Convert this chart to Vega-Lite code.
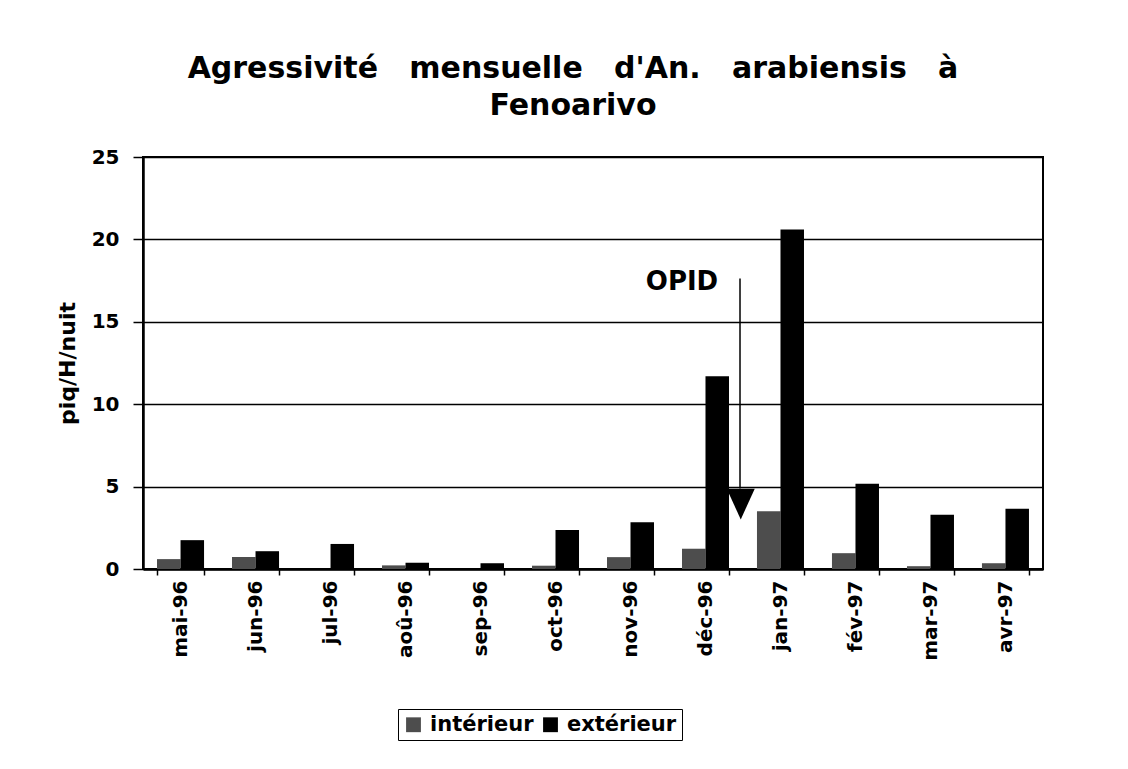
{
  "$schema": "https://vega.github.io/schema/vega-lite/v6.json",
  "width": 900,
  "height": 412,
  "autosize": {"type": "none"},
  "padding": {"left": 143, "top": 157, "right": 85, "bottom": 200},
  "background": "white",
  "config": {"font": "DejaVu Sans", "view": {"stroke": "black", "strokeWidth": 2}},
  "title": {
    "text": ["Agressivité \u00a0\u00a0mensuelle \u00a0\u00a0d'An. \u00a0\u00a0arabiensis \u00a0\u00a0à", "Fenoarivo"],
    "fontSize": 30,
    "fontWeight": "bold",
    "font": "DejaVu Sans",
    "anchor": "middle",
    "frame": "group",
    "offset": 26,
    "lineHeight": 37,
    "dx": -20,
    "color": "black"
  },
  "layer": [
    {
      "data": {
        "values": [
          {"month": "mai-96", "type": "intérieur", "value": 0.6},
          {"month": "mai-96", "type": "extérieur", "value": 1.75},
          {"month": "jun-96", "type": "intérieur", "value": 0.73},
          {"month": "jun-96", "type": "extérieur", "value": 1.08},
          {"month": "jul-96", "type": "intérieur", "value": 0},
          {"month": "jul-96", "type": "extérieur", "value": 1.52},
          {"month": "aoû-96", "type": "intérieur", "value": 0.22},
          {"month": "aoû-96", "type": "extérieur", "value": 0.38},
          {"month": "sep-96", "type": "intérieur", "value": 0},
          {"month": "sep-96", "type": "extérieur", "value": 0.35},
          {"month": "oct-96", "type": "intérieur", "value": 0.2},
          {"month": "oct-96", "type": "extérieur", "value": 2.36},
          {"month": "nov-96", "type": "intérieur", "value": 0.72},
          {"month": "nov-96", "type": "extérieur", "value": 2.84},
          {"month": "déc-96", "type": "intérieur", "value": 1.23},
          {"month": "déc-96", "type": "extérieur", "value": 11.7},
          {"month": "jan-97", "type": "intérieur", "value": 3.51},
          {"month": "jan-97", "type": "extérieur", "value": 20.6},
          {"month": "fév-97", "type": "intérieur", "value": 0.96},
          {"month": "fév-97", "type": "extérieur", "value": 5.17},
          {"month": "mar-97", "type": "intérieur", "value": 0.17},
          {"month": "mar-97", "type": "extérieur", "value": 3.29},
          {"month": "avr-97", "type": "intérieur", "value": 0.35},
          {"month": "avr-97", "type": "extérieur", "value": 3.65}
        ]
      },
      "mark": {"type": "bar"},
      "encoding": {
        "x": {
          "field": "month",
          "type": "nominal",
          "scale": {
            "domain": ["mai-96", "jun-96", "jul-96", "aoû-96", "sep-96", "oct-96", "nov-96", "déc-96", "jan-97", "fév-97", "mar-97", "avr-97"],
            "paddingInner": 0.373,
            "paddingOuter": 0.187
          },
          "title": null,
          "axis": {
            "labelAngle": 270,
            "labelAlign": "right",
            "labelBaseline": "middle",
            "labelFontSize": 20,
            "labelFontWeight": "bold",
            "labelColor": "black",
            "labelPadding": 5,
            "tickBand": "extent",
            "tickSize": 6,
            "tickColor": "black",
            "tickWidth": 1.5,
            "domainColor": "black",
            "domainWidth": 2.5,
            "grid": false
          }
        },
        "xOffset": {"field": "type", "type": "nominal", "scale": {"domain": ["intérieur", "extérieur"]}},
        "y": {
          "field": "value",
          "type": "quantitative",
          "scale": {"domain": [0, 25], "padding": 0, "nice": false},
          "title": "piq/H/nuit",
          "axis": {
            "values": [0, 5, 10, 15, 20, 25],
            "grid": true,
            "gridColor": "black",
            "gridWidth": 1.5,
            "gridOpacity": 1,
            "domainColor": "black",
            "domainWidth": 2.5,
            "tickColor": "black",
            "tickSize": 10,
            "tickWidth": 1.5,
            "labelFontSize": 20,
            "labelFontWeight": "bold",
            "labelColor": "black",
            "labelPadding": 14,
            "titleFontSize": 22,
            "titleFontWeight": "bold",
            "titleColor": "black",
            "titlePadding": 12
          }
        },
        "color": {
          "field": "type",
          "type": "nominal",
          "scale": {"domain": ["intérieur", "extérieur"], "range": ["#4d4d4d", "#000000"]},
          "legend": {
            "title": null,
            "orient": "none",
            "legendX": 255,
            "legendY": 552,
            "direction": "horizontal",
            "padding": 5,
            "strokeColor": "black",
            "symbolType": "square",
            "symbolSize": 220,
            "symbolStrokeWidth": 0,
            "symbolOpacity": 1,
            "labelFontSize": 21,
            "labelFontWeight": "bold",
            "labelColor": "black",
            "labelOffset": 6,
            "columnPadding": 6
          }
        }
      }
    },
    {
      "data": {"values": [{"month": "déc-96", "value": 17.63, "bottom": 4.88}]},
      "mark": {"type": "rule", "color": "black", "strokeWidth": 1.5},
      "encoding": {
        "x": {"field": "month", "type": "nominal", "bandPosition": 1.234},
        "y": {"field": "value", "type": "quantitative"},
        "y2": {"field": "bottom"}
      }
    },
    {
      "data": {"values": [{"month": "déc-96", "value": 3.94}]},
      "mark": {"type": "point", "shape": "M-1,-1.1L1,-1.1L0,1.1Z", "filled": true, "color": "black", "size": 784, "opacity": 1, "strokeWidth": 0},
      "encoding": {
        "x": {"field": "month", "type": "nominal", "bandPosition": 1.25},
        "y": {"field": "value", "type": "quantitative"}
      }
    },
    {
      "data": {"values": [{"month": "déc-96", "value": 17.4, "label": "OPID"}]},
      "mark": {"type": "text", "fontSize": 26, "fontWeight": "bold", "font": "DejaVu Sans", "align": "center", "baseline": "middle", "color": "black"},
      "encoding": {
        "x": {"field": "month", "type": "nominal", "bandPosition": 0},
        "y": {"field": "value", "type": "quantitative"},
        "text": {"field": "label"}
      }
    }
  ]
}
